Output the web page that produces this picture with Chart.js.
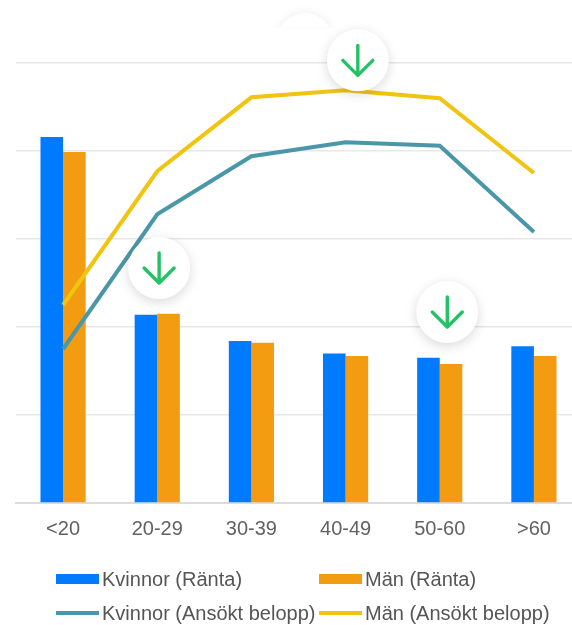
<!DOCTYPE html>
<html lang="sv">
  <head>
    <meta charset="utf-8" />
    <meta name="viewport" content="width=device-width, initial-scale=1" />
    <title>Ränta och ansökt belopp per ålder</title>
    <style>
      * {
        margin: 0;
        padding: 0;
        box-sizing: border-box;
      }
      html,
      body {
        width: 572px;
        height: 625px;
        overflow: hidden;
        background: #fff;
      }
      .page {
        position: relative;
        width: 572px;
        height: 625px;
        overflow: hidden;
        filter: blur(0.4px);
      }
      canvas {
        position: absolute;
        left: 0;
        top: 0;
      }
      .legend {
        position: absolute;
        left: 56px;
        top: 562px;
        display: grid;
        grid-template-columns: 263px 240px;
        grid-auto-rows: 34px;
        font: 20px "Liberation Sans", sans-serif;
        color: #555;
      }
      .legend div {
        display: flex;
        align-items: center;
        white-space: nowrap;
      }
      .legend i {
        display: block;
        width: 43px;
        margin-right: 3px;
      }
    </style>
  </head>
  <body>
    <div class="page">
      <canvas id="myChart" width="598" height="625"></canvas>
      <div class="legend" id="legend"></div>
    </div>

    <script src="https://cdn.jsdelivr.net/npm/chart.js"></script>

    <script>
      const categories = ["<20", "20-29", "30-39", "40-49", "50-60", ">60"];

      const womenRate = [4.16, 2.14, 1.84, 1.7, 1.65, 1.78];
      const menRate = [3.99, 2.15, 1.82, 1.67, 1.58, 1.67];
      const womenAmount = [1.75, 3.28, 3.94, 4.1, 4.06, 3.08];
      const menAmount = [2.25, 3.77, 4.61, 4.69, 4.6, 3.75];

      // arrow badges, in axis units (category index, value)
      const arrowCategory = [1.02, 3.13, 4.08];
      const arrowValue = [2.67, 5.03, 2.17];

      // arrow badges plugin block
      const arrowBadges = {
        id: "arrowBadges",
        beforeDatasetsDraw(chart) {
          const {
            ctx,
            scales: { x, y },
          } = chart;
          // half hidden white badge at the very top
          ctx.save();
          ctx.beginPath();
          ctx.rect(0, 0, chart.width, y.getPixelForValue(5.4));
          ctx.clip();
          ctx.fillStyle = "#fff";
          ctx.shadowColor = "rgba(0, 0, 0, 0.08)";
          ctx.shadowBlur = 10;
          ctx.beginPath();
          ctx.arc(x.getPixelForValue(2.57), y.getPixelForValue(5.25), 28, 0, Math.PI * 2);
          ctx.fill();
          ctx.restore();
        },
        afterDatasetsDraw(chart) {
          const {
            ctx,
            scales: { x, y },
          } = chart;
          arrowCategory.forEach((cat, i) => {
            const cx = x.getPixelForValue(cat);
            const cy = y.getPixelForValue(arrowValue[i]);
            ctx.save();
            ctx.fillStyle = "#fff";
            ctx.shadowColor = "rgba(0, 0, 0, 0.15)";
            ctx.shadowBlur = 12;
            ctx.shadowOffsetY = 3;
            ctx.beginPath();
            ctx.arc(cx, cy, 31, 0, Math.PI * 2);
            ctx.fill();
            ctx.restore();

            ctx.save();
            ctx.strokeStyle = "#25c265";
            ctx.lineWidth = 3.4;
            ctx.lineCap = "round";
            ctx.lineJoin = "round";
            ctx.beginPath();
            ctx.moveTo(cx, cy - 15);
            ctx.lineTo(cx, cy + 15);
            ctx.moveTo(cx - 15, cy);
            ctx.lineTo(cx, cy + 15);
            ctx.lineTo(cx + 15, cy);
            ctx.stroke();
            ctx.restore();
          });
        },
      };

      // data block
      const data = {
        labels: categories,
        datasets: [
          {
            type: "line",
            label: "Kvinnor (Ansökt belopp)",
            data: womenAmount,
            borderColor: "#4a97a9",
            backgroundColor: "#4a97a9",
            borderWidth: 4,
            pointRadius: 0,
            tension: 0,
            order: 1,
          },
          {
            type: "line",
            label: "Män (Ansökt belopp)",
            data: menAmount,
            borderColor: "#f1c40f",
            backgroundColor: "#f1c40f",
            borderWidth: 4,
            pointRadius: 0,
            tension: 0,
            order: 1,
          },
          {
            label: "Kvinnor (Ränta)",
            data: womenRate,
            backgroundColor: "#007bff",
            barPercentage: 1,
            categoryPercentage: 0.48,
            order: 2,
          },
          {
            label: "Män (Ränta)",
            data: menRate,
            backgroundColor: "#f39c12",
            barPercentage: 1,
            categoryPercentage: 0.48,
            order: 2,
          },
        ],
      };

      // config block
      const config = {
        type: "bar",
        data: data,
        options: {
          responsive: false,
          animation: false,
          layout: {
            padding: { left: 16, right: 17, top: 63, bottom: 78 },
          },
          plugins: {
            legend: { display: false },
            tooltip: { enabled: false },
          },
          scales: {
            x: {
              grid: { display: false },
              border: { color: "#dcdcdc", width: 2 },
              ticks: {
                color: "#626262",
                padding: 6,
                maxRotation: 0,
                autoSkip: false,
                font: { family: "Liberation Sans", size: 20 },
              },
            },
            y: {
              min: 0,
              max: 5,
              ticks: { display: false, stepSize: 1 },
              border: { display: false },
              grid: { color: "#e8e8e8", lineWidth: 1.5, drawTicks: false },
            },
          },
        },
        plugins: [arrowBadges],
      };

      // init render block
      const myChart = new Chart(document.getElementById("myChart"), config);

      // legend block, two rows: bars first, then lines
      const legendOrder = [2, 3, 0, 1];
      const legendBox = document.getElementById("legend");
      legendOrder.forEach((idx) => {
        const ds = data.datasets[idx];
        const item = document.createElement("div");
        const swatch = document.createElement("i");
        swatch.style.background = ds.backgroundColor;
        swatch.style.height = ds.type === "line" ? "4px" : "10px";
        item.appendChild(swatch);
        item.appendChild(document.createTextNode(ds.label));
        legendBox.appendChild(item);
      });
    </script>
  </body>
</html>
